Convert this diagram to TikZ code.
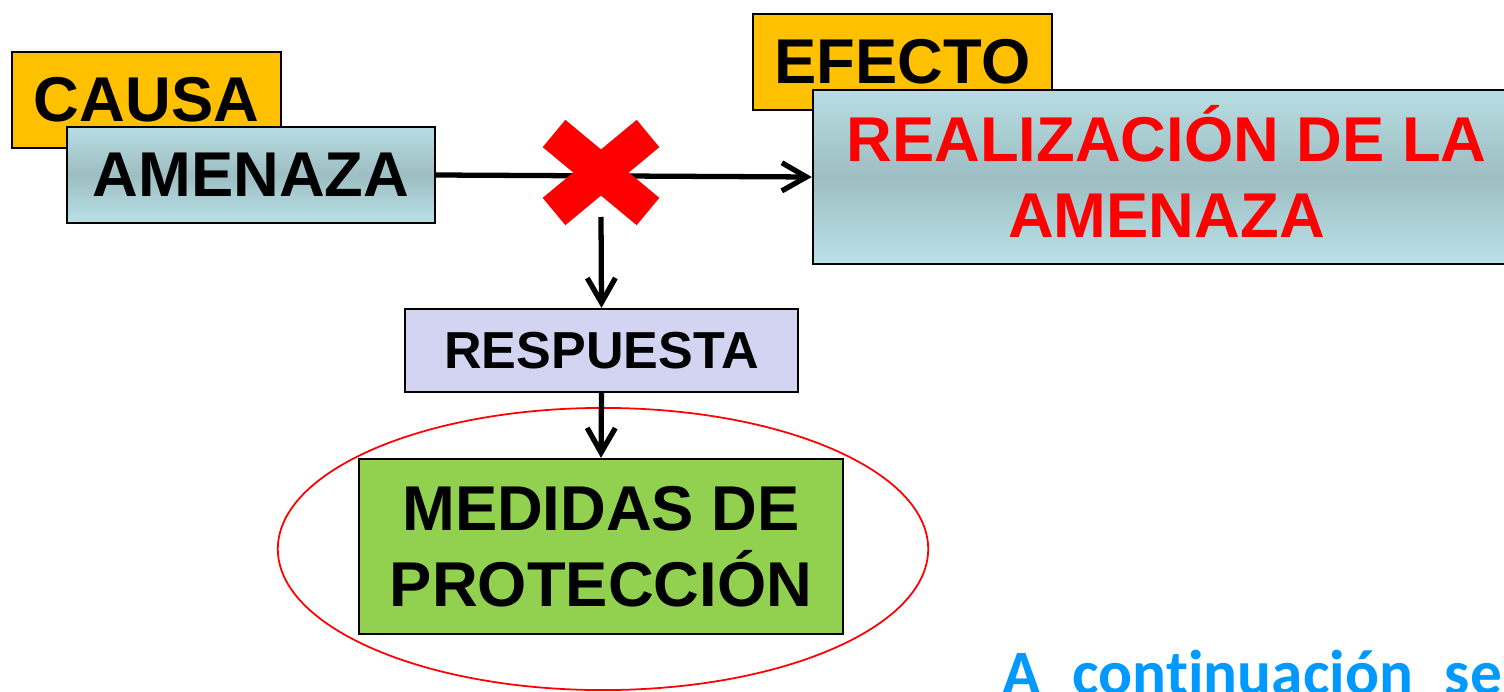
\documentclass[tikz,border=0pt]{standalone}
\usepackage{fontspec}
\setmainfont{Liberation Sans}
\newfontfamily\calibri[Ligatures=NoCommon]{Carlito}
\usetikzlibrary{arrows.meta,shapes.geometric}

\definecolor{tagorange}{HTML}{FFC000}
\definecolor{tealtop}{HTML}{B7DDE2}
\definecolor{tealmid}{HTML}{9DBEC2}
\definecolor{tealbot}{HTML}{B9E1E7}
\definecolor{lavender}{HTML}{D3D3F2}
\definecolor{leafgreen}{HTML}{92D050}
\definecolor{xred}{HTML}{FF0000}
\definecolor{skyblue}{HTML}{0099FF}

\begin{document}
\begin{tikzpicture}[x=0.01cm, y=-0.01cm,
        plainbox/.style={rectangle,draw=black,line width=0.6pt,inner sep=0pt,
        align=center,text=black,font=\bfseries\fontsize{18}{21.6}\selectfont},
        tagbox/.style={plainbox,fill=tagorange},
        tealbox/.style={plainbox,top color=tealtop,bottom color=tealbot,middle color=tealmid},
        xmark/.style={line width=0.355cm,draw=xred},
        nondirectional/.style={line width=1.5pt,black},
        unidirectional/.style={nondirectional,-{Straight Barb[length=7pt,width=8pt]}}]

    \useasboundingbox (0,0) rectangle (1504,691);

    \node [tagbox, minimum width=2.69cm, minimum height=0.96cm] (causa) at (146.5,100) {CAUSA};
    \node [tealbox, minimum width=3.68cm, minimum height=0.96cm] (amenaza) at (251,175) {AMENAZA};

    \node [tagbox, minimum width=2.99cm, minimum height=0.96cm] (efecto) at (902.5,62) {EFECTO};
    \node [tealbox, text=xred, minimum width=7.07cm, minimum height=1.74cm] (realizacion) at (1166.5,177)
        {REALIZACI\smash{Ó}N DE LA\\AMENAZA};

    \node [plainbox, fill=lavender, font=\bfseries\fontsize{14.8}{18}\selectfont,
        minimum width=3.93cm, minimum height=0.83cm] (respuesta) at (601.5,350.5) {RESPUESTA};
    \node [plainbox, fill=leafgreen, minimum width=4.84cm, minimum height=1.75cm] (medidas) at (601,546.5)
        {MEDIDAS DE\\PROTECCIÓN};
    \node [ellipse, draw=xred, line width=0.5pt, minimum width=6.5cm, minimum height=2.82cm] (aro) at (603,549) {};

    \path [unidirectional] (amenaza.east) edge (realizacion.west);

    % the cross that blocks the threat
    \coordinate (cruz) at (601,172.5);
    \draw [xmark] (cruz) ++(-47,-39) -- ++(94,78);
    \draw [xmark] (cruz) ++(47,-39) -- ++(-94,78);

    \coordinate (corte) at (601,217);
    \path [unidirectional] (corte) edge (respuesta.north);
    \path [unidirectional] (respuesta.south) edge (medidas.north);

    \node [anchor=base west, inner sep=0pt, text=skyblue,
        font=\calibri\bfseries\fontsize{18}{21.6}\selectfont] (continua) at (1002,694)
        {A\hspace{9pt}continuación\hspace{9pt}se};
\end{tikzpicture}
\end{document}
